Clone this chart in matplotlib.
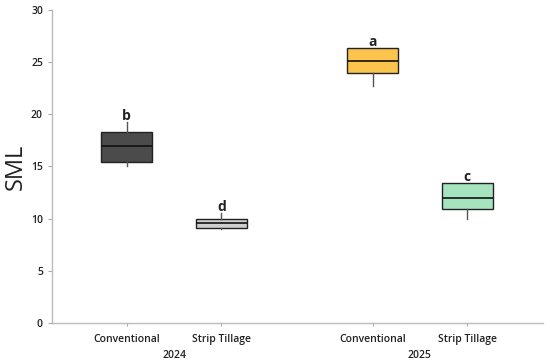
import matplotlib.pyplot as plt

plt.rcParams['font.family'] = ['Open Sans', 'DejaVu Sans']

treatments = ['Conventional', 'Strip Tillage', 'Conventional', 'Strip Tillage']
years = ['2024', '2025']
positions = [1, 2, 3.6, 4.6]
whislo = [15.0, 9.0, 22.7, 10.0]
q1 = [15.4, 9.15, 24.0, 10.9]
med = [17.0, 9.55, 25.1, 12.0]
q3 = [18.3, 10.0, 26.35, 13.45]
whishi = [19.3, 10.5, 26.35, 13.45]
letters = ['b', 'd', 'a', 'c']
colors = ['#4b4b4b', '#cfcfcf', '#fbc44c', '#a6e3bf']

stats = []
for i in range(4):
    stats.append(dict(whislo=whislo[i], q1=q1[i], med=med[i], q3=q3[i],
                      whishi=whishi[i], fliers=[]))

fig = plt.figure(figsize=(5.5, 3.64), dpi=100)
ax = fig.add_axes([0.0945, 0.1126, 0.8925, 0.86])

bp = ax.bxp(stats, positions=positions, widths=0.54, patch_artist=True,
            showcaps=False,
            boxprops=dict(edgecolor='#222222', linewidth=1.0),
            medianprops=dict(color='#111111', linewidth=1.2),
            whiskerprops=dict(color='#555555', linewidth=1.0))
for patch, c in zip(bp['boxes'], colors):
    patch.set_facecolor(c)

for x, top, lab in zip(positions, whishi, letters):
    ax.text(x, top - 0.1, lab, ha='center', va='bottom',
            fontsize=10, fontweight='bold', color='#222222')

ax.set_xlim(0.21, 5.4)
ax.set_ylim(0, 30)
ax.set_yticks(range(0, 31, 5))
ax.set_xticks(positions)
ax.set_xticklabels(treatments, fontsize=7.5, fontweight='semibold')
ax.set_yticklabels([str(v) for v in range(0, 31, 5)], fontsize=7.5,
                   fontweight='semibold')
ax.tick_params(axis='y', colors='#aaaaaa', length=3, width=0.8)
ax.tick_params(axis='x', colors='#aaaaaa', length=2, width=0.8, pad=6)
for lbl in ax.get_xticklabels() + ax.get_yticklabels():
    lbl.set_color('#222222')
ax.set_ylabel('SML', fontsize=17, color='#222222', labelpad=2)

for s in ['top', 'right']:
    ax.spines[s].set_visible(False)
for s in ['left', 'bottom']:
    ax.spines[s].set_color('#bbbbbb')
    ax.spines[s].set_linewidth(1.0)

ax.text(1.5, -0.085, years[0], transform=ax.get_xaxis_transform(),
        ha='center', va='top', fontsize=7.5, fontweight='semibold',
        color='#222222')
ax.text(4.1, -0.085, years[1], transform=ax.get_xaxis_transform(),
        ha='center', va='top', fontsize=7.5, fontweight='semibold',
        color='#222222')

fig.savefig('out.png', dpi=100)
